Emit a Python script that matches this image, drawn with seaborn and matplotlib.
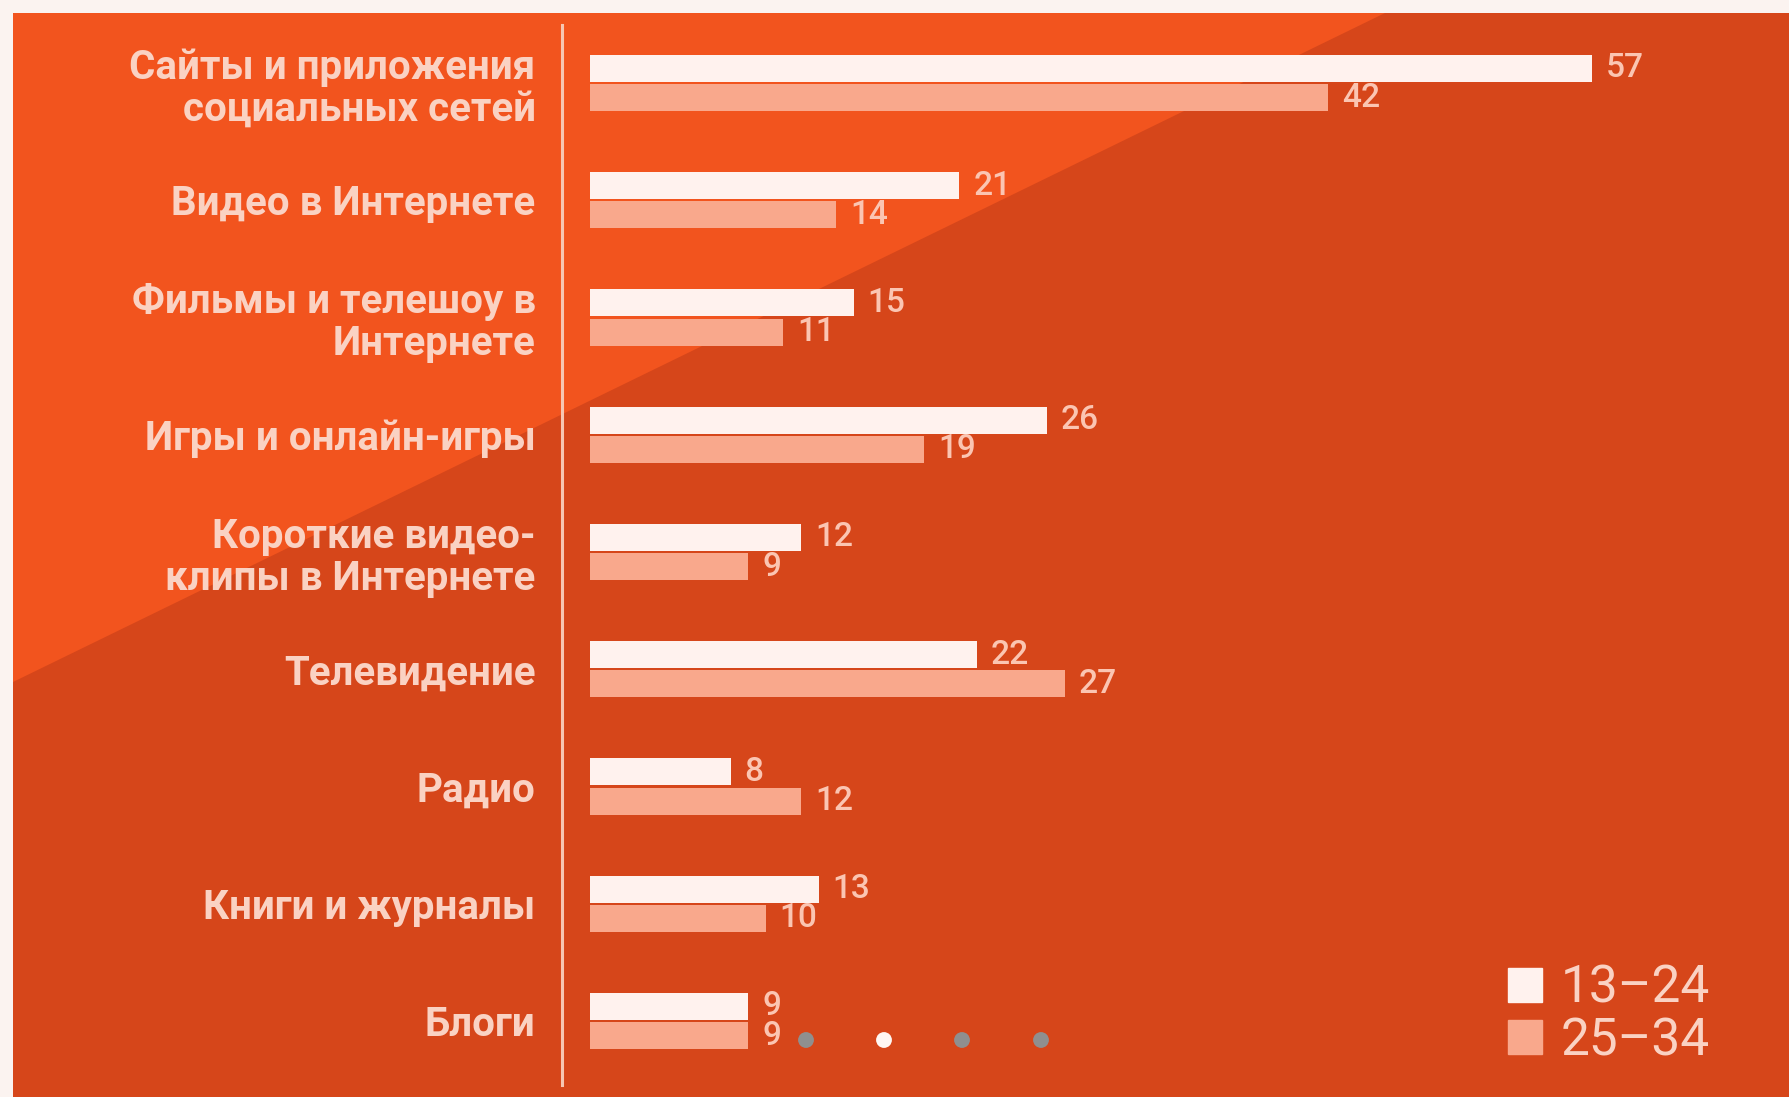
# ----------------------------------------------------------
# Media usage by age group — horizontal grouped bars
# ----------------------------------------------------------
import pandas as pd
import matplotlib.pyplot as plt
import seaborn as sns
from matplotlib.patches import Polygon, Rectangle
from matplotlib.lines import Line2D

sns.set_theme(style="white")
plt.rcParams["font.family"] = ["Roboto", "DejaVu Sans"]

# ----------------------------------------------------------
# Data
# ----------------------------------------------------------
categories = [
    "Сайты и приложения\nсоциальных сетей",
    "Видео в Интернете",
    "Фильмы и телешоу в\nИнтернете",
    "Игры и онлайн-игры",
    "Короткие видео-\nклипы в Интернете",
    "Телевидение",
    "Радио",
    "Книги и журналы",
    "Блоги",
]
groups = ["13–24", "25–34"]
values_13_24 = [57, 21, 15, 26, 12, 22, 8, 13, 9]
values_25_34 = [42, 14, 11, 19, 9, 27, 12, 10, 9]

df = pd.DataFrame({
    "Category": categories * 2,
    "Group": [groups[0]] * len(categories) + [groups[1]] * len(categories),
    "Value": values_13_24 + values_25_34,
})

# colours
bg_dark = "#D6461A"
bg_light = "#F2541E"
bar_colors = ["#FFF2EE", "#F9A88C"]
text_color = "#FAD2C3"
value_color = "#FBC5B2"

W, H = 1789, 1097

fig, ax = plt.subplots(figsize=(W / 100, H / 100), dpi=100)
fig.patch.set_facecolor(bg_dark)

# background: lighter triangle at top-left and white screen borders
def fx(px):
    return px / W

def fy(py):
    return 1 - py / H

fig.add_artist(Polygon([(fx(13), fy(13)), (fx(1385), fy(13)), (fx(13), fy(682))],
                       closed=True, facecolor=bg_light, edgecolor="none",
                       transform=fig.transFigure, zorder=-5))
fig.add_artist(Rectangle((0, fy(13)), 1, 13 / H, facecolor="#FBF3F0",
                         edgecolor="none", transform=fig.transFigure, zorder=-4))
fig.add_artist(Rectangle((0, 0), 13 / W, 1, facecolor="#FBF3F0",
                         edgecolor="none", transform=fig.transFigure, zorder=-4))

# ----------------------------------------------------------
# Bars
# ----------------------------------------------------------
ax.set_position([fx(562), fy(1085), fx(W - 562), (1085 - 25) / H])
ax.patch.set_alpha(0)

sns.barplot(data=df, y="Category", x="Value", hue="Group", orient="h",
            palette=bar_colors, saturation=1, width=0.5, gap=0.08,
            linewidth=0, legend=False, ax=ax)

for container in ax.containers:
    ax.bar_label(container, padding=10, color=value_color, fontsize=24,
                 fontweight="medium")

ax.set_xlim(-1.6, 68.2)
ax.set_ylim(8.546, -0.494)
ax.set_xlabel("")
ax.set_ylabel("")
ax.set_xticks([])
ax.tick_params(axis="y", length=0, pad=19, labelsize=29, labelcolor=text_color)
for lbl in ax.get_yticklabels():
    lbl.set_multialignment("right")
    lbl.set_fontweight("bold")
    lbl.set_linespacing(1.12)

for side in ["top", "right", "bottom"]:
    ax.spines[side].set_visible(False)
ax.spines["left"].set_color("#F7C6B2")
ax.spines["left"].set_linewidth(2.2)

# ----------------------------------------------------------
# Legend
# ----------------------------------------------------------
handles = [Line2D([], [], marker="s", linestyle="", markersize=24,
                  markerfacecolor=c, markeredgecolor=c) for c in bar_colors]
fig.legend(handles, groups, loc="center left",
           bbox_to_anchor=(fx(1453), fy(1015)), frameon=False,
           fontsize=37, labelcolor=text_color, handletextpad=0.2,
           labelspacing=0.05, handlelength=1.0)

# pagination dots of the slide viewer
dot_x = [806, 884, 962, 1041]
dot_c = ["#8F8F8F", "#FFF6F2", "#8F8F8F", "#8F8F8F"]
ax.scatter([fx(x) for x in dot_x], [fy(1040)] * 4, s=130, c=dot_c,
           transform=fig.transFigure, clip_on=False, zorder=5, linewidths=0)

fig.savefig("out.png", dpi=100, facecolor=fig.get_facecolor())
